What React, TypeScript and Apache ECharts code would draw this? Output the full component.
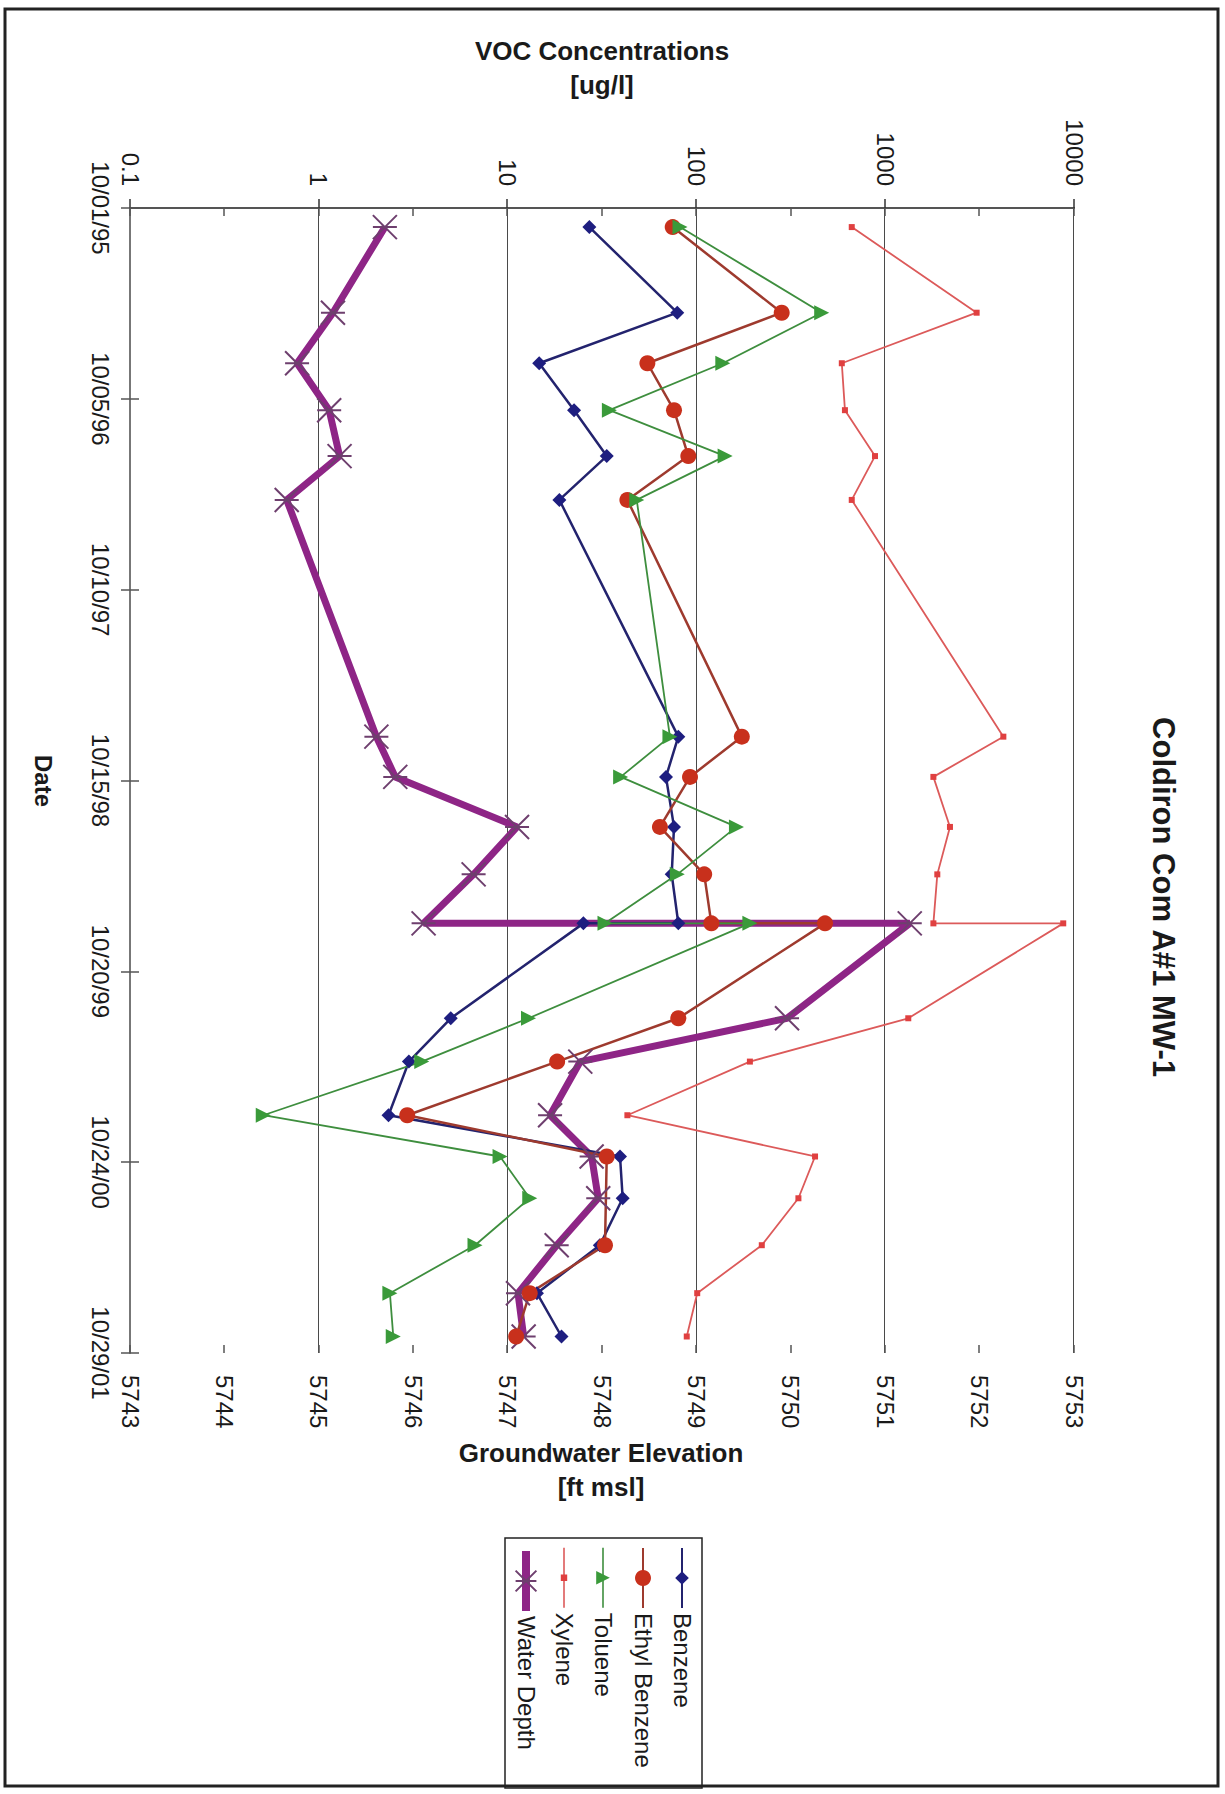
import React, { useEffect, useRef } from "react";
import * as echarts from "echarts";

// ---------------- data ----------------
const START_UTC = Date.UTC(1995, 9, 1); // 10/01/95 = axis origin
const DAY_MS = 86400000;
const AXIS_MAX_DAYS = 2220; // 10/29/01
const TICK_DAYS = 370;

const sampleDates = [
  "1995-11-07", "1996-04-21", "1996-07-28", "1996-10-27", "1997-01-24",
  "1997-04-19", "1998-07-22", "1998-10-08", "1999-01-13", "1999-04-15",
  "1999-07-19", "1999-07-19", "2000-01-19", "2000-04-12", "2000-07-25",
  "2000-10-13", "2001-01-02", "2001-04-03", "2001-07-05", "2001-09-27",
];

const benzene = [27.1, 79.2, 14.7, 22.5, 33.5, 18.8, 80.2, 69.0, 76.1, 74.0,
  80.2, 25.2, 5.0, 3.0, 2.34, 39.4, 40.7, 30.8, 14.3, 19.3];
const ethylBenzene = [74.9, 283, 55.0, 76.1, 90.6, 43.1, 174, 92.5, 64.1, 110,
  120, 480, 80.2, 18.3, 2.94, 33.5, null, 32.8, 13.1, 11.1];
const toluene = [81.9, 461, 138, 34.6, 142, 48.3, 72.4, 39.7, 163, 79.2,
  32.8, 192, 12.9, 3.51, 0.508, 9.12, 13.1, 6.72, 2.38, 2.48];
const xylene = [665, 3050, 589, 612, 883, 665, 4225, 1800, 2203, 1888,
  1800, 8770, 1325, 192, 43.1, 425, 347, 222, 101, 88.9];
const waterElevation = [5745.70, 5745.15, 5744.77, 5745.11, 5745.22, 5744.66,
  5745.61, 5745.81, 5747.10, 5746.64, 5746.11, 5751.26, 5749.96, 5747.77,
  5747.45, 5747.89, 5747.96, 5747.52, 5747.11, 5747.17];

const seriesNames = ["Benzene", "Ethyl Benzene", "Toluene", "Xylene", "Water Depth"];

// ---------------- helpers ----------------
const FONT = "'Liberation Sans', Arial, Helvetica, sans-serif";

function toDays(s: string): number {
  return Math.round((Date.parse(s + "T00:00:00Z") - START_UTC) / DAY_MS);
}
function pad(n: number) {
  return n < 10 ? "0" + n : "" + n;
}
function dayLabel(v: number): string {
  const d = new Date(START_UTC + v * DAY_MS);
  return pad(d.getUTCMonth() + 1) + "/" + pad(d.getUTCDate()) + "/" + pad(d.getUTCFullYear() % 100);
}
function pairs(values: (number | null)[]) {
  const out: [number, number][] = [];
  values.forEach((v, i) => {
    if (v !== null && v !== undefined) out.push([toDays(sampleDates[i]), v]);
  });
  return out;
}

export default function App() {
  const ref = useRef<HTMLDivElement | null>(null);

  useEffect(() => {
    if (!ref.current) return;
    const chart = echarts.init(ref.current, undefined, { renderer: "svg" });

    const baseLabel = { fontSize: 24, color: "#1a1a1a", fontFamily: FONT };

    // one legend per entry so each icon can have its own size / line width
    const legendRows = [
      { name: "Benzene", center: 543, itemHeight: 17, lineWidth: 2 },
      { name: "Ethyl Benzene", center: 582, itemHeight: 20, lineWidth: 2 },
      { name: "Toluene", center: 622, itemHeight: 17, lineWidth: 1.6 },
      { name: "Xylene", center: 661, itemHeight: 8, lineWidth: 1.6 },
      { name: "Water Depth", center: 699, itemHeight: 26, lineWidth: 8 },
    ];
    const legends = legendRows.map((r) => ({
      orient: "vertical",
      left: 1547,
      top: r.center - 14,
      data: [r.name],
      itemWidth: 60,
      itemHeight: r.itemHeight,
      padding: 0,
      lineStyle: { width: r.lineWidth },
      textStyle: { fontSize: 24, color: "#1a1a1a", fontFamily: FONT, lineHeight: 28 },
      selectedMode: false,
    }));

    const option: any = {
      animation: false,
      backgroundColor: "#ffffff",
      grid: { left: 208, top: 151, width: 1145, height: 944, containLabel: false },
      xAxis: [
        {
          type: "value",
          min: 0,
          max: AXIS_MAX_DAYS,
          interval: TICK_DAYS,
          position: "bottom",
          axisLine: { show: true, lineStyle: { color: "#777777", width: 2 } },
          axisTick: { show: true, length: 9, lineStyle: { color: "#555555", width: 1.5 } },
          axisLabel: { ...baseLabel, margin: 18, formatter: (v: number) => dayLabel(v) },
          splitLine: { show: false },
        },
        {
          type: "value",
          min: 0,
          max: AXIS_MAX_DAYS,
          interval: TICK_DAYS,
          position: "bottom",
          axisLine: { show: false },
          axisTick: { show: true, inside: true, length: 9, lineStyle: { color: "#555555", width: 1.5 } },
          axisLabel: { show: false },
          splitLine: { show: false },
        },
      ],
      yAxis: [
        {
          type: "log",
          logBase: 10,
          min: 0.1,
          max: 10000,
          interval: 1,
          position: "left",
          axisLine: { show: true, lineStyle: { color: "#333333", width: 2 } },
          axisTick: { show: true, length: 9, lineStyle: { color: "#333333", width: 1.5 } },
          axisLabel: {
            ...baseLabel,
            margin: 22,
            formatter: (v: number) => String(+Number(v).toPrecision(6)),
          },
          splitLine: { show: true, lineStyle: { color: "#4a4a4a", width: 1 } },
          minorTick: { show: false },
        },
        {
          type: "value",
          min: 5743,
          max: 5753,
          interval: 1,
          position: "right",
          axisLine: { show: true, lineStyle: { color: "#555555", width: 2 } },
          axisTick: { show: true, length: 8, lineStyle: { color: "#555555", width: 1.5 } },
          axisLabel: { ...baseLabel, margin: 22, formatter: (v: number) => String(v) },
          splitLine: { show: false },
        },
        {
          type: "value",
          min: 5743,
          max: 5753,
          interval: 1,
          position: "right",
          axisLine: { show: false },
          axisTick: { show: true, inside: true, length: 8, lineStyle: { color: "#555555", width: 1.5 } },
          axisLabel: { show: false },
          splitLine: { show: false },
        },
      ],
      legend: legends,
      series: [
        {
          name: "Water Depth",
          type: "line",
          xAxisIndex: 0,
          yAxisIndex: 1,
          data: pairs(waterElevation),
          symbol: "path://M0 0L20 20M20 0L0 20M10 0L10 20",
          symbolSize: 24,
          showAllSymbol: true,
          lineStyle: { color: "#8E2586", width: 7 },
          itemStyle: { color: "transparent", borderColor: "#6E3F6E", borderWidth: 2 },
        },
        {
          name: "Benzene",
          type: "line",
          xAxisIndex: 0,
          yAxisIndex: 0,
          data: pairs(benzene),
          symbol: "diamond",
          symbolSize: 14,
          showAllSymbol: true,
          lineStyle: { color: "#23236E", width: 2.5 },
          itemStyle: { color: "#1E1E80", borderWidth: 0 },
        },
        {
          name: "Ethyl Benzene",
          type: "line",
          xAxisIndex: 0,
          yAxisIndex: 0,
          data: pairs(ethylBenzene),
          symbol: "circle",
          symbolSize: 16,
          showAllSymbol: true,
          lineStyle: { color: "#9E3A2E", width: 2.5 },
          itemStyle: { color: "#C8301C", borderWidth: 0 },
        },
        {
          name: "Toluene",
          type: "line",
          xAxisIndex: 0,
          yAxisIndex: 0,
          data: pairs(toluene),
          symbol: "triangle",
          symbolSize: 15,
          showAllSymbol: true,
          lineStyle: { color: "#3E8E3E", width: 1.8 },
          itemStyle: { color: "#3A9A3A", borderWidth: 0 },
        },
        {
          name: "Xylene",
          type: "line",
          xAxisIndex: 0,
          yAxisIndex: 0,
          data: pairs(xylene),
          symbol: "rect",
          symbolSize: 6,
          showAllSymbol: true,
          lineStyle: { color: "#DC5A5A", width: 1.8 },
          itemStyle: { color: "#E04040", borderWidth: 0 },
        },
      ],
      graphic: [
        {
          type: "rect",
          shape: { x: 9, y: 7, width: 1777, height: 1213 },
          style: { fill: "none", stroke: "#222222", lineWidth: 3 },
          silent: true,
          z: -1,
        },
        {
          type: "rect",
          shape: { x: 1538, y: 523, width: 250, height: 197 },
          style: { fill: "none", stroke: "#222222", lineWidth: 1.5 },
          silent: true,
        },
        {
          type: "text",
          x: 897,
          y: 62,
          style: {
            text: "Coldiron Com A#1 MW-1",
            fontSize: 31,
            fontWeight: "bold",
            fontFamily: FONT,
            fill: "#1a1a1a",
            align: "center",
            verticalAlign: "middle",
          },
        },
        {
          type: "text",
          x: 68,
          y: 623,
          rotation: Math.PI / 2,
          style: {
            text: "VOC Concentrations\n[ug/l]",
            fontSize: 26,
            fontWeight: "bold",
            fontFamily: FONT,
            fill: "#1a1a1a",
            align: "center",
            verticalAlign: "middle",
            lineHeight: 34,
          },
        },
        {
          type: "text",
          x: 1470,
          y: 624,
          rotation: Math.PI / 2,
          style: {
            text: "Groundwater Elevation\n[ft msl]",
            fontSize: 26,
            fontWeight: "bold",
            fontFamily: FONT,
            fill: "#1a1a1a",
            align: "center",
            verticalAlign: "middle",
            lineHeight: 34,
          },
        },
        {
          type: "text",
          x: 781,
          y: 1182,
          style: {
            text: "Date",
            fontSize: 24,
            fontWeight: "bold",
            fontFamily: FONT,
            fill: "#1a1a1a",
            align: "center",
            verticalAlign: "middle",
          },
        },
      ],
    };

    chart.setOption(option);
    return () => {
      chart.dispose();
    };
  }, []);

  return (
    <div
      style={{
        position: "absolute",
        left: 0,
        top: 0,
        width: 1225,
        height: 1794,
        overflow: "hidden",
        background: "#ffffff",
      }}
    >
      <div
        ref={ref}
        style={{
          position: "absolute",
          left: 0,
          top: 0,
          width: 1794,
          height: 1225,
          transformOrigin: "0 0",
          transform: "translateX(1225px) rotate(90deg)",
        }}
      />
    </div>
  );
}
